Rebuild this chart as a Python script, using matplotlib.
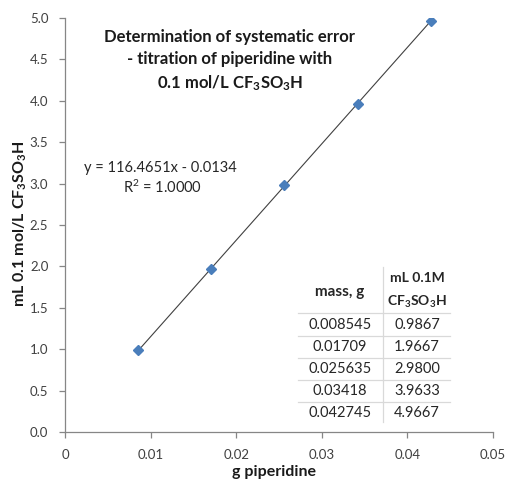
import matplotlib
matplotlib.use("Agg")
import matplotlib.pyplot as plt
import numpy as np

plt.rcParams['font.family'] = ['Lato', 'DejaVu Sans']
plt.rcParams['mathtext.default'] = 'regular'

# data
mass_g = [0.008545, 0.01709, 0.025635, 0.03418, 0.042745]
ml_acid = [0.9867, 1.9667, 2.9800, 3.9633, 4.9667]
x_ticks = [0, 0.01, 0.02, 0.03, 0.04, 0.05]
x_ticklabels = ['0', '0.01', '0.02', '0.03', '0.04', '0.05']
y_ticks = [0.0, 0.5, 1.0, 1.5, 2.0, 2.5, 3.0, 3.5, 4.0, 4.5, 5.0]

W, H = 508, 484


def px(x, y):
    # pixel position -> figure fraction
    return x / W, 1 - y / H


fig = plt.figure(figsize=(W / 100, H / 100), dpi=100)
ax = fig.add_axes([65 / W, 1 - 432 / H, 428 / W, 414 / H])

x = np.array(mass_g)
y = np.array(ml_acid)
slope, icpt = np.polyfit(x, y, 1)
r2 = np.corrcoef(x, y)[0, 1] ** 2

xs = np.array([x.min(), x.max()])
ax.plot(xs, slope * xs + icpt, color='#404040', lw=0.8, zorder=2)
ax.plot(x, y, linestyle='none', marker='D', ms=5.5, color='#4a7ebb',
        markeredgecolor='#4a7ebb', zorder=3)

ax.set_xlim(0, 0.05)
ax.set_ylim(0, 5.0)
ax.set_xticks(x_ticks)
ax.set_xticklabels(x_ticklabels)
ax.set_yticks(y_ticks)
ax.set_yticklabels(['%.1f' % v for v in y_ticks])
for s in ['top', 'right']:
    ax.spines[s].set_visible(False)
for s in ['left', 'bottom']:
    ax.spines[s].set_color('#868686')
    ax.spines[s].set_linewidth(0.9)
ax.tick_params(colors='#868686', labelcolor='#404040', labelsize=9.5,
               length=4, width=0.9)
ax.tick_params(axis='x', pad=8)
ax.tick_params(axis='y', pad=8)

# axis titles placed by hand, like the spreadsheet does
fig.text(*px(274, 472), 'g piperidine', ha='center', va='center',
         fontsize=11.5, fontweight='bold', color='#1a1a1a')
fig.text(*px(20, 224), 'mL 0.1 mol/L CF$_3$SO$_3$H', ha='center',
         va='center', rotation=90, fontsize=11.5, fontweight='bold',
         color='#1a1a1a')

# chart title
fig.text(*px(230, 61), 'Determination of systematic error\n'
         '- titration of piperidine with\n0.1 mol/L CF$_3$SO$_3$H',
         ha='center', va='center', fontsize=12, fontweight='bold',
         linespacing=1.45, color='#1a1a1a')

# trendline label
fig.text(*px(160, 168), 'y = %.4fx - %.4f' % (slope, abs(icpt)),
         ha='center', va='center', fontsize=10.5, color='#262626')
fig.text(*px(163, 187), 'R$^2$ = %.4f' % r2,
         ha='center', va='center', fontsize=10.5, color='#262626')

# data table
grid = '#d9d9d9'
row_y = [313, 336, 358, 380, 402]
for yy in row_y:
    fig.add_artist(plt.Line2D([298 / W, 450 / W], [1 - yy / H] * 2,
                              color=grid, lw=0.9))
fig.add_artist(plt.Line2D([383 / W] * 2, [1 - 267 / H, 1 - 422 / H],
                          color=grid, lw=0.9))
fig.text(*px(340, 292), 'mass, g', ha='center', va='center',
         fontsize=11, fontweight='bold', color='#262626')
fig.text(*px(417, 278), 'mL 0.1M', ha='center', va='center',
         fontsize=10, fontweight='bold', color='#262626')
fig.text(*px(417, 302), 'CF$_3$SO$_3$H', ha='center', va='center',
         fontsize=10, fontweight='bold', color='#262626')
for i, (m, v) in enumerate(zip(mass_g, ml_acid)):
    yy = 325 + i * 22
    fig.text(*px(340, yy), str(m), ha='center', va='center',
             fontsize=10.5, color='#262626')
    fig.text(*px(417, yy), '%.4f' % v, ha='center', va='center',
             fontsize=10.5, color='#262626')

fig.savefig('out.png', dpi=100)
